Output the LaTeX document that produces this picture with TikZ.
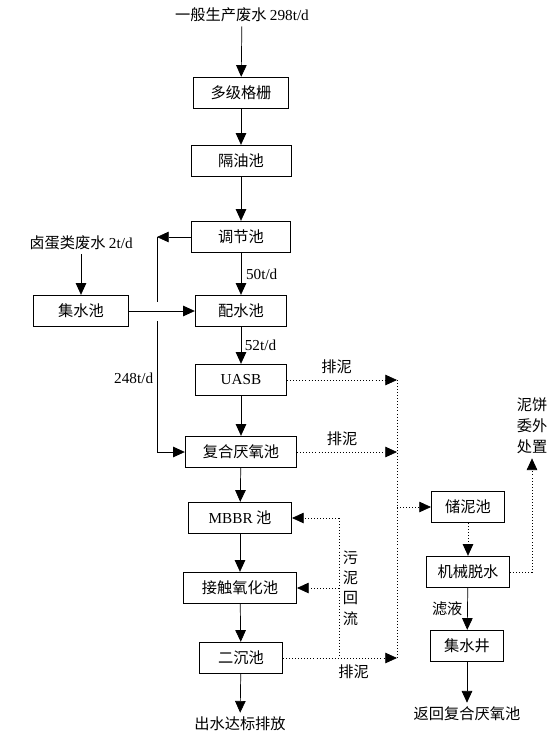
\documentclass[tikz,border=0pt]{standalone}
\usepackage{fontspec}
\setmainfont{Liberation Serif}
\newfontfamily\cjk{Noto Sans CJK SC}
\usetikzlibrary{arrows.meta}
\tikzset{
  box/.style={rectangle, draw, minimum height=0.95cm, inner sep=2pt},
  arrow/.style={draw, -{Triangle[length=10pt, width=9pt]}},
  dotarrow/.style={draw, dotted, -{Triangle[length=10pt, width=9pt]}},
  note/.style={inner sep=1pt}
  }

\begin{document}
\begin{tikzpicture}[x=0.03cm, y=-0.03cm, line width=0.6pt, font=\fontsize{13}{16}\selectfont\cjk]
	\useasboundingbox (0,0) rectangle (557,742);

	% Nodes, main line
	\node (inflow) at (242,15) {一般生产废水 {\rmfamily 298t/d}};
	\node[box, minimum width=2.85cm] (grille) at (241,93) {多级格栅};
	\node[box, minimum width=3.0cm] (oilsep) at (241,161) {隔油池};
	\node[box, minimum width=2.95cm] (regulate) at (241,237) {调节池};
	\node[box, minimum width=2.75cm] (distrib) at (241,311) {配水池};
	\node[box, minimum width=2.75cm] (uasb) at (241,380) {\rmfamily UASB};
	\node[box, minimum width=3.35cm] (anaerob) at (241,452) {复合厌氧池};
	\node[box, minimum width=3.1cm] (mbbr) at (240,518) {{\rmfamily MBBR} 池};
	\node[box, minimum width=3.4cm] (contact) at (240,588) {接触氧化池};
	\node[box, minimum width=2.5cm] (settle) at (241,658) {二沉池};
	\node (outflow) at (240,724) {出水达标排放};

	% Nodes, side line
	\node (eggwater) at (81,243) {卤蛋类废水 {\rmfamily 2t/d}};
	\node[box, minimum width=2.85cm] (collect) at (81,311) {集水池};

	% Nodes, sludge line
	\node[box, minimum width=2.2cm] (store) at (468,507) {储泥池};
	\node[box, minimum width=2.5cm] (dewater) at (468,572) {机械脱水};
	\node[box, minimum width=2.2cm] (well) at (467,646) {集水井};
	\node (back) at (467,714) {返回复合厌氧池};
	\node[align=center, font=\fontsize{13}{18}\selectfont\cjk] (cake) at (532,426) {泥饼\\委外\\处置};

	% Coordinates
	\coordinate (turn) at (157,237);
	\coordinate (gapA) at (157,302);
	\coordinate (gapB) at (157,321);
	\coordinate (sludgeTop) at (397,380);
	\coordinate (sludgeBot) at (397,658);
	\coordinate (returnTop) at (339,518);
	\coordinate (returnBot) at (339,658);

	% Arrows, main line
	\draw [arrow] (inflow) -- (grille);
	\draw [arrow] (grille) -- (oilsep);
	\draw [arrow] (oilsep) -- (regulate);
	\draw [arrow] (regulate) -- node[note, right=3pt]{\rmfamily 50t/d} (distrib);
	\draw [arrow] (distrib) -- node[note, right=2pt]{\rmfamily 52t/d} (uasb);
	\draw [arrow] (uasb) -- (anaerob);
	\draw [arrow] (anaerob) -- (mbbr);
	\draw [arrow] (mbbr) -- (contact);
	\draw [arrow] (contact) -- (settle);
	\draw [arrow] (settle) -- (outflow);

	% Arrows, side line and bypass
	\draw [arrow] (eggwater) -- (collect);
	\draw [arrow] (collect) -- (distrib);
	\draw [arrow] (regulate) -- (turn);
	\draw (turn) -- (gapA);
	\draw [arrow] (gapB) |- node[note, left=2pt, pos=0.22]{\rmfamily 248t/d} (anaerob);

	% Sludge
	\draw [dotarrow] (uasb) -- node[note, above=4pt, pos=0.45]{排泥} (sludgeTop);
	\draw [dotarrow] (anaerob) -- node[note, above=4pt, pos=0.45]{排泥} (anaerob -| sludgeTop);
	\draw [dotarrow] (settle) -- node[note, below=4pt, pos=0.62]{排泥} (sludgeBot);
	\draw [dotted] (sludgeTop) -- (sludgeBot);
	\draw [dotarrow] (store -| sludgeTop) -- (store);
	\draw [dotarrow] (store) -- (dewater);
	\draw [dotarrow] (dewater) -| (cake);
	\draw [arrow] (dewater) -- node[note, left=3pt]{滤液} (well);
	\draw [arrow] (well) -- (back);

	% Sludge return
	\draw [dotted] (returnTop) -- node[note, right=2pt, align=center, font=\fontsize{13}{17.4}\selectfont\cjk]{污\\泥\\回\\流} (returnBot);
	\draw [dotarrow] (returnTop) -- (mbbr);
	\draw [dotarrow] (returnTop |- contact) -- (contact);

\end{tikzpicture}
\end{document}
